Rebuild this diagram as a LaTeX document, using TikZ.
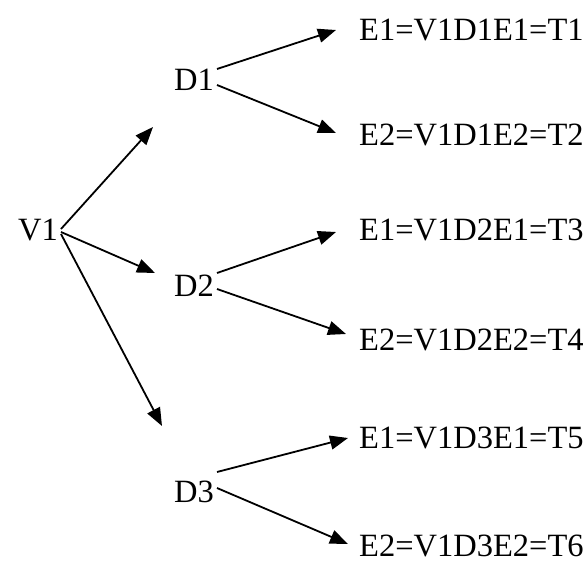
\documentclass[tikz,border=0pt]{standalone}
\usepackage{fontspec}
\setmainfont{Liberation Serif}
\usetikzlibrary{arrows.meta}

\begin{document}
\begin{tikzpicture}[x=1pt,y=-1pt,
  lbl/.style={anchor=base west,inner sep=0pt,font=\fontsize{32.5}{38}\selectfont},
  edge/.style={line width=1.8pt,-{Triangle[length=18pt,width=14pt]}}]
  \useasboundingbox (0,0) rectangle (587,562);

  % root, decision and outcome labels
  \node[lbl] (v1) at (18,240) {V1};
  \node[lbl] (d1) at (174,90)  {D1};
  \node[lbl] (d2) at (174,296) {D2};
  \node[lbl] (d3) at (174,502) {D3};
  \node[lbl] (t1) at (359,40)  {E1=V1D1E1=T1};
  \node[lbl] (t2) at (359,145) {E2=V1D1E2=T2};
  \node[lbl] (t3) at (359,240) {E1=V1D2E1=T3};
  \node[lbl] (t4) at (359,350) {E2=V1D2E2=T4};
  \node[lbl] (t5) at (359,448) {E1=V1D3E1=T5};
  \node[lbl] (t6) at (359,556) {E2=V1D3E2=T6};

  % first level branches
  \draw[edge] ([shift={(43,-11)}]v1.base west) -- ([shift={(-21,37)}]d1.base west);
  \draw[edge] ([shift={(43,-8)}]v1.base west)  -- ([shift={(-19,-23)}]d2.base west);
  \draw[edge] ([shift={(43,-6)}]v1.base west)  -- ([shift={(-12,-76)}]d3.base west);

  % second level branches
  \draw[edge] ([shift={(43,-21)}]d1.base west) -- ([shift={(-23,-10)}]t1.base west);
  \draw[edge] ([shift={(43,-5)}]d1.base west)  -- ([shift={(-23,-12)}]t2.base west);
  \draw[edge] ([shift={(43,-23)}]d2.base west) -- ([shift={(-23,-8)}]t3.base west);
  \draw[edge] ([shift={(43,-7)}]d2.base west)  -- ([shift={(-13,-16)}]t4.base west);
  \draw[edge] ([shift={(43,-30)}]d3.base west) -- ([shift={(-11,-10)}]t5.base west);
  \draw[edge] ([shift={(43,-14)}]d3.base west) -- ([shift={(-11,-12)}]t6.base west);
\end{tikzpicture}
\end{document}
